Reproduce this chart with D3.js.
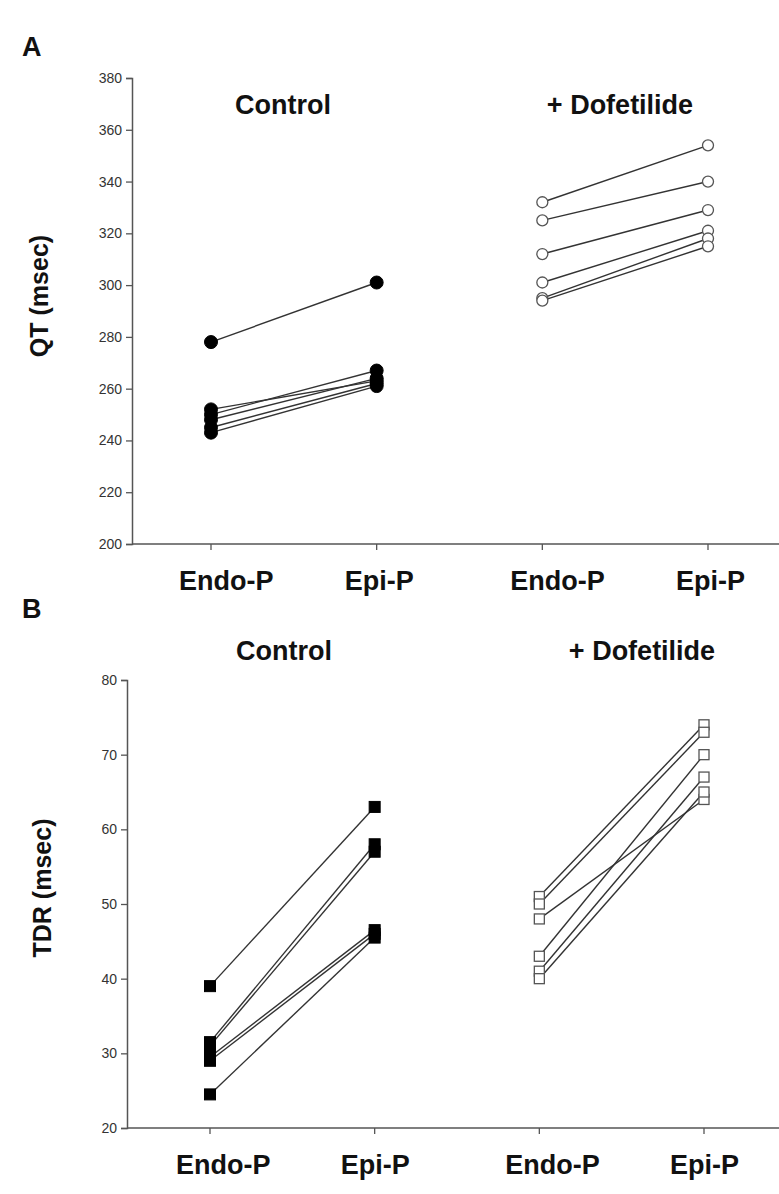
<!DOCTYPE html>
<html>
<head>
<meta charset="utf-8">
<script src="https://cdn.jsdelivr.net/npm/d3@7"></script>
<style>
  body { margin: 0; background: #fff; }
  svg { display: block; }
  .lbl { font-family: "Liberation Sans", Arial, Helvetica, sans-serif; font-weight: bold; fill: #111; }
  .tick text { font-family: "Liberation Sans", Arial, sans-serif; font-size: 14px; fill: #333; }
</style>
</head>
<body>
<svg width="779" height="1194"></svg>
<script>
// categories on the x axis (control pair, dofetilide pair)
const categories = ["cEndo", "cEpi", "dEndo", "dEpi"];
const tickLabels = ["Endo-P", "Epi-P", "Endo-P", "Epi-P"];

// panel A: QT (msec), one entry per preparation
const qtControlEndo = [278, 252, 250, 248, 245, 243];
const qtControlEpi  = [301, 263, 267, 264, 262, 261];
const qtDofEndo     = [332, 325, 312, 301, 295, 294];
const qtDofEpi      = [354, 340, 329, 321, 318, 315];
const qtTicks = [200, 220, 240, 260, 280, 300, 320, 340, 360, 380];

// panel B: TDR (msec)
const tdrControlEndo = [39, 31.5, 31, 29.5, 29, 24.5];
const tdrControlEpi  = [63, 58, 57, 46.5, 46, 45.5];
const tdrDofEndo     = [51, 50, 48, 43, 41, 40];
const tdrDofEpi      = [74, 73, 64, 70, 67, 65];
const tdrTicks = [20, 30, 40, 50, 60, 70, 80];

const svg = d3.select("svg");
const lineCol = "#333";

function pairs(a, b) {
  return a.map((v, i) => [v, b[i]]);
}

// draws one panel
function drawPanel(opt) {
  const g = svg.append("g");
  const x = d3.scalePoint().domain(categories).range(opt.xRange);
  const y = d3.scaleLinear().domain(opt.yDomain).range(opt.yRange);

  // y axis
  const ya = g.append("g")
    .attr("transform", `translate(${opt.axisX},0)`)
    .call(d3.axisLeft(y).tickValues(opt.ticks).tickSize(6).tickPadding(4));
  ya.select(".domain").attr("stroke", "#555").attr("stroke-width", 1.5);
  ya.selectAll(".tick line").attr("stroke", "#555").attr("stroke-width", 1.3);

  // x axis
  g.append("line")
    .attr("x1", opt.axisX).attr("x2", 779)
    .attr("y1", y(opt.yDomain[0])).attr("y2", y(opt.yDomain[0]))
    .attr("stroke", "#555").attr("stroke-width", 1.5);
  categories.forEach((c, i) => {
    g.append("line")
      .attr("x1", x(c)).attr("x2", x(c))
      .attr("y1", y(opt.yDomain[0])).attr("y2", y(opt.yDomain[0]) + 6)
      .attr("stroke", "#555").attr("stroke-width", 1.3);
    g.append("text")
      .attr("class", "lbl")
      .attr("x", x(c) + opt.labelDx)
      .attr("y", y(opt.yDomain[0]) + 46)
      .attr("font-size", 27)
      .attr("text-anchor", "start")
      .text(tickLabels[i]);
  });

  // y title
  g.append("text")
    .attr("class", "lbl")
    .attr("transform", `translate(${opt.titleX},${opt.titleY}) rotate(-90)`)
    .attr("text-anchor", "middle")
    .attr("font-size", 25)
    .text(opt.yTitle);

  // panel letter
  g.append("text")
    .attr("class", "lbl")
    .attr("x", 22).attr("y", opt.letterY)
    .attr("font-size", 27)
    .text(opt.letter);

  // group titles
  g.append("text").attr("class", "lbl")
    .attr("x", opt.ctrlTitleX).attr("y", opt.groupTitleY)
    .attr("text-anchor", "middle").attr("font-size", 27)
    .text("Control");
  g.append("text").attr("class", "lbl")
    .attr("x", opt.dofTitleX).attr("y", opt.groupTitleY)
    .attr("text-anchor", "middle").attr("font-size", 27)
    .text("+ Dofetilide");

  // connecting lines
  const groups = [
    { data: pairs(opt.ctrlEndo, opt.ctrlEpi), a: "cEndo", b: "cEpi", open: false },
    { data: pairs(opt.dofEndo, opt.dofEpi), a: "dEndo", b: "dEpi", open: true }
  ];
  groups.forEach(gr => {
    g.selectAll(null).data(gr.data).enter().append("line")
      .attr("x1", x(gr.a)).attr("y1", d => y(d[0]))
      .attr("x2", x(gr.b)).attr("y2", d => y(d[1]))
      .attr("stroke", lineCol).attr("stroke-width", 1.4);
  });

  // markers
  groups.forEach(gr => {
    const pts = [];
    gr.data.forEach(d => {
      pts.push({ c: gr.a, v: d[0] });
      pts.push({ c: gr.b, v: d[1] });
    });
    if (opt.shape === "circle") {
      g.selectAll(null).data(pts).enter().append("circle")
        .attr("cx", d => x(d.c)).attr("cy", d => y(d.v))
        .attr("r", gr.open ? 5.5 : 6.5)
        .attr("fill", gr.open ? "#fff" : "#000")
        .attr("stroke", gr.open ? "#555" : "#000")
        .attr("stroke-width", gr.open ? 1.3 : 1);
    } else {
      const s = gr.open ? 10 : 11;
      g.selectAll(null).data(pts).enter().append("rect")
        .attr("x", d => x(d.c) - s / 2).attr("y", d => y(d.v) - s / 2)
        .attr("width", s).attr("height", s)
        .attr("fill", gr.open ? "#fff" : "#000")
        .attr("stroke", gr.open ? "#555" : "#000")
        .attr("stroke-width", gr.open ? 1.3 : 1);
    }
  });
}

drawPanel({
  letter: "A", letterY: 56,
  yTitle: "QT (msec)", titleX: 48, titleY: 296,
  axisX: 132, xRange: [211, 708], labelDx: -32,
  yDomain: [200, 380], yRange: [544, 78], ticks: qtTicks,
  groupTitleY: 114, ctrlTitleX: 283, dofTitleX: 620,
  ctrlEndo: qtControlEndo, ctrlEpi: qtControlEpi,
  dofEndo: qtDofEndo, dofEpi: qtDofEpi,
  shape: "circle"
});

drawPanel({
  letter: "B", letterY: 618,
  yTitle: "TDR (msec)", titleX: 51, titleY: 888,
  axisX: 127, xRange: [210, 704], labelDx: -34,
  yDomain: [20, 80], yRange: [1128, 680], ticks: tdrTicks,
  groupTitleY: 660, ctrlTitleX: 284, dofTitleX: 642,
  ctrlEndo: tdrControlEndo, ctrlEpi: tdrControlEpi,
  dofEndo: tdrDofEndo, dofEpi: tdrDofEpi,
  shape: "square"
});
</script>
</body>
</html>
